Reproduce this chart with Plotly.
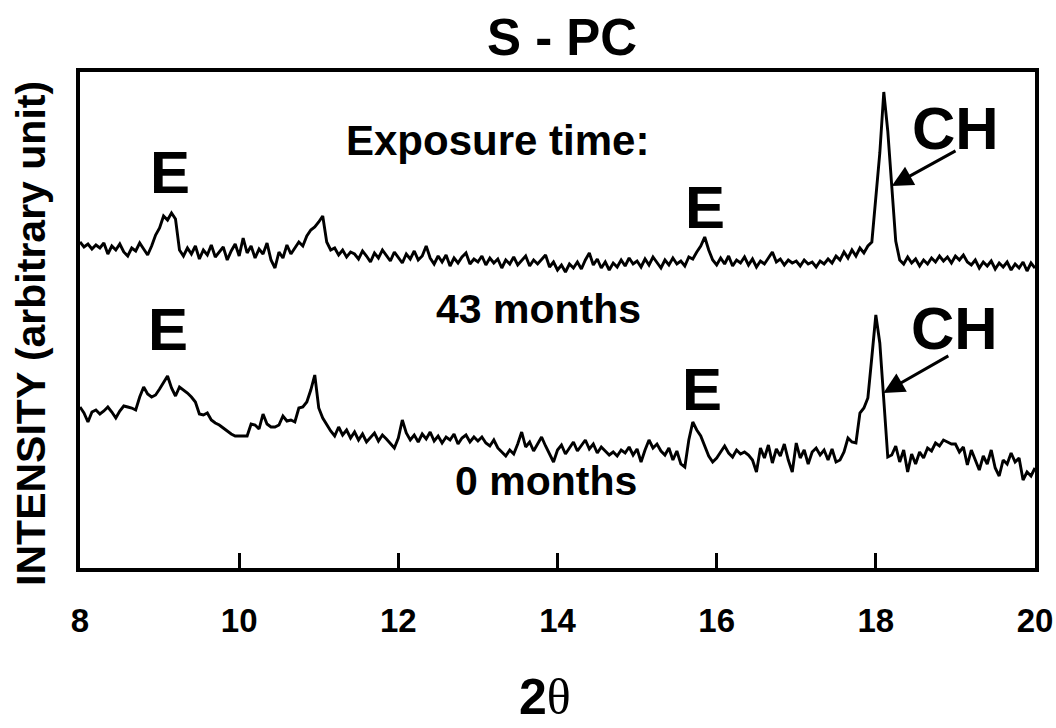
import numpy as np
import plotly.graph_objects as go

# 2-theta scan: start, step, number of points
theta_start = 8.0
theta_step = 0.05
n_points = 241
two_theta = np.round(theta_start + theta_step * np.arange(n_points), 2)

# Intensity, 43 months exposure (arbitrary unit)
months43 = (
    [326, 321, 324, 319, 323, 320, 325, 314, 322, 318, 324, 316, 312, 320, 317, 325, 319, 313, 322, 333]
    + [340, 352, 348, 355, 349, 318, 312, 320, 314, 322, 309, 318, 313, 323, 311, 316, 321, 308, 317, 324]
    + [312, 330, 315, 322, 310, 319, 314, 325, 308, 300, 316, 310, 323, 314, 320, 326, 322, 332, 338, 341]
    + [346, 352, 326, 318, 320, 313, 318, 311, 316, 314, 309, 317, 312, 306, 315, 310, 318, 312, 307, 316]
    + [311, 305, 314, 309, 317, 308, 312, 322, 310, 304, 312, 306, 313, 302, 310, 305, 311, 315, 304, 309]
    + [306, 312, 303, 310, 305, 309, 300, 308, 304, 311, 303, 307, 312, 302, 308, 304, 309, 313, 301, 306]
    + [298, 303, 296, 304, 300, 306, 299, 308, 315, 303, 309, 300, 306, 298, 305, 301, 308, 302, 310, 304]
    + [307, 301, 309, 303, 311, 305, 300, 308, 303, 310, 304, 307, 302, 311, 309, 316, 322, 331, 318, 308]
    + [303, 310, 304, 312, 302, 308, 305, 311, 303, 309, 301, 307, 304, 310, 316, 306, 309, 303, 308, 305]
    + [307, 302, 308, 304, 306, 301, 307, 304, 309, 305, 312, 308, 316, 310, 318, 312, 320, 315, 322, 326]
    + [369, 415, 476, 437, 382, 327, 308, 304, 311, 305, 309, 302, 308, 304, 310, 306, 312, 307, 311, 305]
    + [312, 308, 313, 306, 303, 308, 300, 306, 302, 307, 299, 305, 301, 306, 298, 304, 300, 306, 297, 305, 300]
)

# Intensity, 0 months exposure (arbitrary unit)
months0 = (
    [161, 155, 146, 156, 158, 154, 157, 161, 156, 150, 157, 162, 161, 160, 158, 171, 181, 174, 171, 173]
    + [179, 186, 192, 180, 172, 181, 178, 175, 171, 166, 154, 153, 155, 148, 145, 143, 140, 137, 134, 132]
    + [132, 132, 132, 144, 143, 139, 154, 144, 141, 141, 143, 152, 147, 148, 146, 160, 161, 166, 178, 193]
    + [160, 150, 143, 137, 132, 141, 133, 138, 130, 136, 128, 134, 126, 131, 135, 127, 133, 129, 124, 120]
    + [130, 148, 135, 128, 133, 126, 134, 129, 136, 127, 132, 125, 131, 128, 134, 124, 130, 133, 126, 131]
    + [127, 131, 125, 122, 128, 120, 116, 112, 118, 114, 124, 136, 121, 126, 117, 124, 131, 122, 114, 106]
    + [118, 123, 114, 120, 126, 117, 122, 128, 119, 124, 115, 121, 117, 113, 116, 112, 118, 115, 121, 113]
    + [119, 106, 118, 128, 120, 124, 117, 113, 120, 108, 117, 104, 101, 128, 146, 138, 132, 122, 112, 106]
    + [110, 116, 122, 115, 111, 118, 114, 116, 113, 108, 96, 120, 110, 123, 105, 119, 112, 124, 108, 96]
    + [125, 110, 118, 104, 116, 120, 113, 118, 108, 119, 106, 108, 116, 130, 126, 125, 155, 160, 170, 211]
    + [253, 225, 170, 111, 113, 122, 106, 118, 96, 114, 104, 116, 110, 120, 117, 125, 122, 128, 126, 124]
    + [124, 116, 121, 103, 118, 108, 98, 112, 104, 118, 100, 92, 108, 104, 115, 106, 110, 88, 96, 92, 100]
)

assert len(months43) == n_points and len(months0) == n_points

x_ticks = [8, 10, 12, 14, 16, 18, 20]

# Peak labels: (text, 2theta, intensity)
peak_labels = [
    ("E", 9.13, 396), ("E", 15.85, 361), ("CH", 19.0, 440),
    ("E", 9.11, 239), ("E", 15.82, 179), ("CH", 18.99, 240),
]
# Arrows: (head 2theta, head intensity, tail 2theta, tail intensity)
arrows = [(18.20, 382, 19.02, 418), (18.095, 175, 18.93, 213)]

FONT = "Liberation Sans, Arial, sans-serif"

fig = go.Figure()
for vals in (months43, months0):
    fig.add_trace(go.Scatter(x=two_theta, y=vals, mode="lines",
                             line=dict(color="black", width=2.9),
                             showlegend=False, hoverinfo="skip"))

ann = []
for txt, xx, yy in peak_labels:
    ann.append(dict(x=xx, y=yy, xref="x", yref="y", text=f"<b>{txt}</b>",
                    xanchor="center", yanchor="middle",
                    showarrow=False, font=dict(family=FONT, size=60, color="black")))
for hx, hy, tx, ty in arrows:
    ann.append(dict(x=hx, y=hy, ax=tx, ay=ty, xref="x", yref="y", axref="x", ayref="y",
                    text="", showarrow=True, arrowhead=2, arrowsize=1.4,
                    arrowwidth=3, arrowcolor="black"))
ann += [
    dict(x=13.24, y=428, xref="x", yref="y", text="<b>Exposure time:</b>", showarrow=False,
         xanchor="center", yanchor="middle", font=dict(family=FONT, size=42, color="black")),
    dict(x=13.76, y=259, xref="x", yref="y", text="<b>43 months</b>", showarrow=False,
         xanchor="center", yanchor="middle", font=dict(family=FONT, size=41, color="black")),
    dict(x=13.86, y=87, xref="x", yref="y", text="<b>0 months</b>", showarrow=False,
         xanchor="center", yanchor="middle", font=dict(family=FONT, size=41, color="black")),
    dict(x=0.505, y=1.07, xref="paper", yref="paper", text="<b>S - PC</b>", showarrow=False,
         xanchor="center", yanchor="middle", font=dict(family=FONT, size=51, color="black")),
    dict(x=-0.0513, y=0.472, xref="paper", yref="paper", textangle=-90,
         text="<b>INTENSITY (arbitrary unit)</b>", showarrow=False,
         xanchor="center", yanchor="middle", font=dict(family=FONT, size=41, color="black")),
    dict(x=0.487, y=-0.26, xref="paper", yref="paper",
         text='<b>2</b><span style="font-family:Liberation Serif, serif">θ</span>',
         xanchor="center", yanchor="middle",
         showarrow=False, font=dict(family=FONT, size=50, color="black")),
]

fig.update_layout(
    width=1056, height=728,
    margin=dict(l=80, r=21, t=72, b=160, autoexpand=False),
    paper_bgcolor="white", plot_bgcolor="white",
    annotations=ann,
    xaxis=dict(range=[8, 20], tickvals=x_ticks, ticktext=[f"<b>{t}</b>" for t in x_ticks],
               ticks="inside", ticklen=15, tickwidth=3, tickcolor="black",
               showline=True, linewidth=4, linecolor="black", mirror=True,
               showgrid=False, zeroline=False, ticklabelstandoff=20,
               ticklabeloverflow="allow", automargin=False,
               tickfont=dict(family=FONT, size=33, color="black")),
    yaxis=dict(range=[0, 496], showticklabels=False, ticks="", automargin=False,
               showline=True, linewidth=4, linecolor="black", mirror=True,
               showgrid=False, zeroline=False),
)

# remove the page's default body margin so the 1056x728 figure fills the window exactly
fig.write_html("out.html", config={"displayModeBar": False},
               post_script="document.body.style.margin='0';document.body.style.overflow='hidden';")
